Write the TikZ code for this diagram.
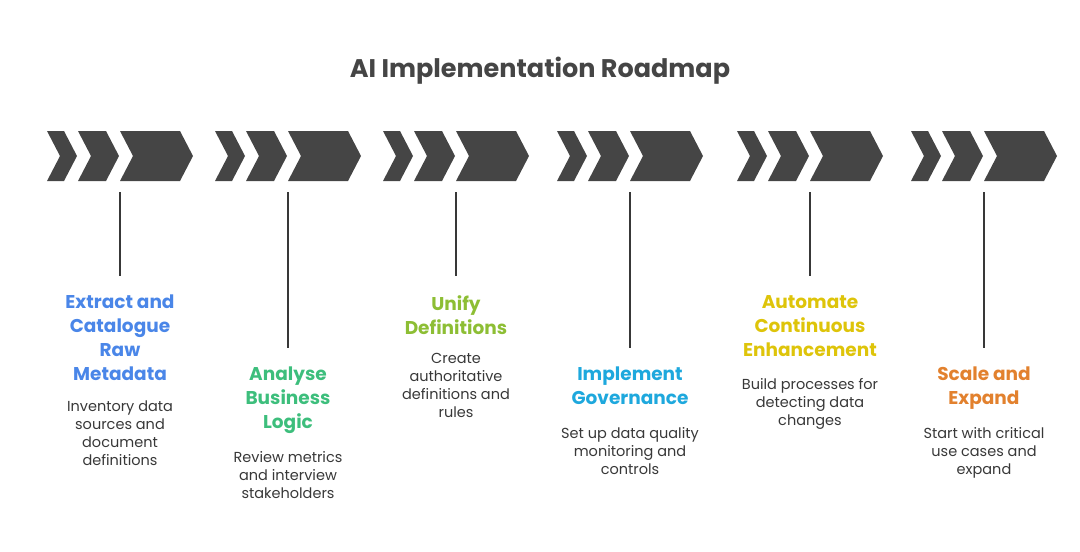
\documentclass[tikz,border=0pt]{standalone}
\usepackage{fontspec}
\setmainfont{Poppins}
\usepackage{xcolor}
\usetikzlibrary{positioning}
\definecolor{RDark}{HTML}{454545}
\definecolor{RText}{HTML}{383838}
\definecolor{RBlue}{HTML}{4A86E8}
\definecolor{RGreen}{HTML}{3DBE7C}
\definecolor{RLime}{HTML}{8DBE34}
\definecolor{RCyan}{HTML}{1EA8DD}
\definecolor{RYellow}{HTML}{DEC40A}
\definecolor{ROrange}{HTML}{E2812E}
\tikzset{
  chev/.style={fill=RDark},
  stem/.style={draw=RText, line width=1.4pt},
  heading/.style={align=center, inner sep=0pt,
    font=\fontsize{18.5}{24}\selectfont\bfseries},
  desc/.style={align=center, inner sep=0pt, text=RText,
    font=\fontsize{14.5}{18}\selectfont},
}

\begin{document}
\begin{tikzpicture}[x=1pt, y=-1pt]
  \useasboundingbox (0,0) rectangle (1080,552);
  \node[text=RDark, font=\fontsize{25.5}{30}\selectfont\bfseries] (title) at (540,71) {AI Implementation Roadmap};

  % chevron groups
  \foreach \gx in {47,215,383,557,737,911}{
    \fill[chev] (\gx,131) -- ++(17,0) -- ++(13,25) -- ++(-13,25) -- ++(-17,0) -- ++(13,-25) -- cycle;
    \fill[chev] (\gx+31,131) -- ++(28,0) -- ++(13,25) -- ++(-13,25) -- ++(-28,0) -- ++(13,-25) -- cycle;
    \fill[chev] (\gx+73,131) -- ++(60,0) -- ++(13,25) -- ++(-13,25) -- ++(-60,0) -- ++(13,-25) -- cycle;
  }

  \coordinate (g1) at (120,192);  \coordinate (e1) at (120,276);
  \coordinate (g2) at (288,192);  \coordinate (e2) at (288,348);
  \coordinate (g3) at (456,192);  \coordinate (e3) at (456,276);
  \coordinate (g4) at (630,192);  \coordinate (e4) at (630,348);
  \coordinate (g5) at (810,192);  \coordinate (e5) at (810,276);
  \coordinate (g6) at (984,192);  \coordinate (e6) at (984,348);

  \node[heading, text=RBlue, below=19pt of e1] (h1) {Extract and\\Catalogue\\Raw\\Metadata};
  \node[desc, below=19pt of h1] (d1) {Inventory data\\sources and\\document\\definitions};

  \node[heading, text=RGreen, below=19pt of e2] (h2) {Analyse\\Business\\Logic};
  \node[desc, below=17pt of h2] (d2) {Review metrics\\and interview\\stakeholders};

  \node[heading, text=RLime, below=19pt of e3] (h3) {Unify\\Definitions};
  \node[desc, below=19pt of h3] (d3) {Create\\authoritative\\definitions and\\rules};

  \node[heading, text=RCyan, below=19pt of e4] (h4) {Implement\\Governance};
  \node[desc, below=22pt of h4] (d4) {Set up data quality\\monitoring and\\controls};

  \node[heading, text=RYellow, below=19pt of e5] (h5) {Automate\\Continuous\\Enhancement};
  \node[desc, below=22pt of h5] (d5) {Build processes for\\detecting data\\changes};

  \node[heading, text=ROrange, below=19pt of e6] (h6) {Scale and\\Expand};
  \node[desc, below=17pt of h6] (d6) {Start with critical\\use cases and\\expand};

  \foreach \i in {1,...,6}{
    \draw[stem] (g\i) -- (e\i);
  }
\end{tikzpicture}
\end{document}
